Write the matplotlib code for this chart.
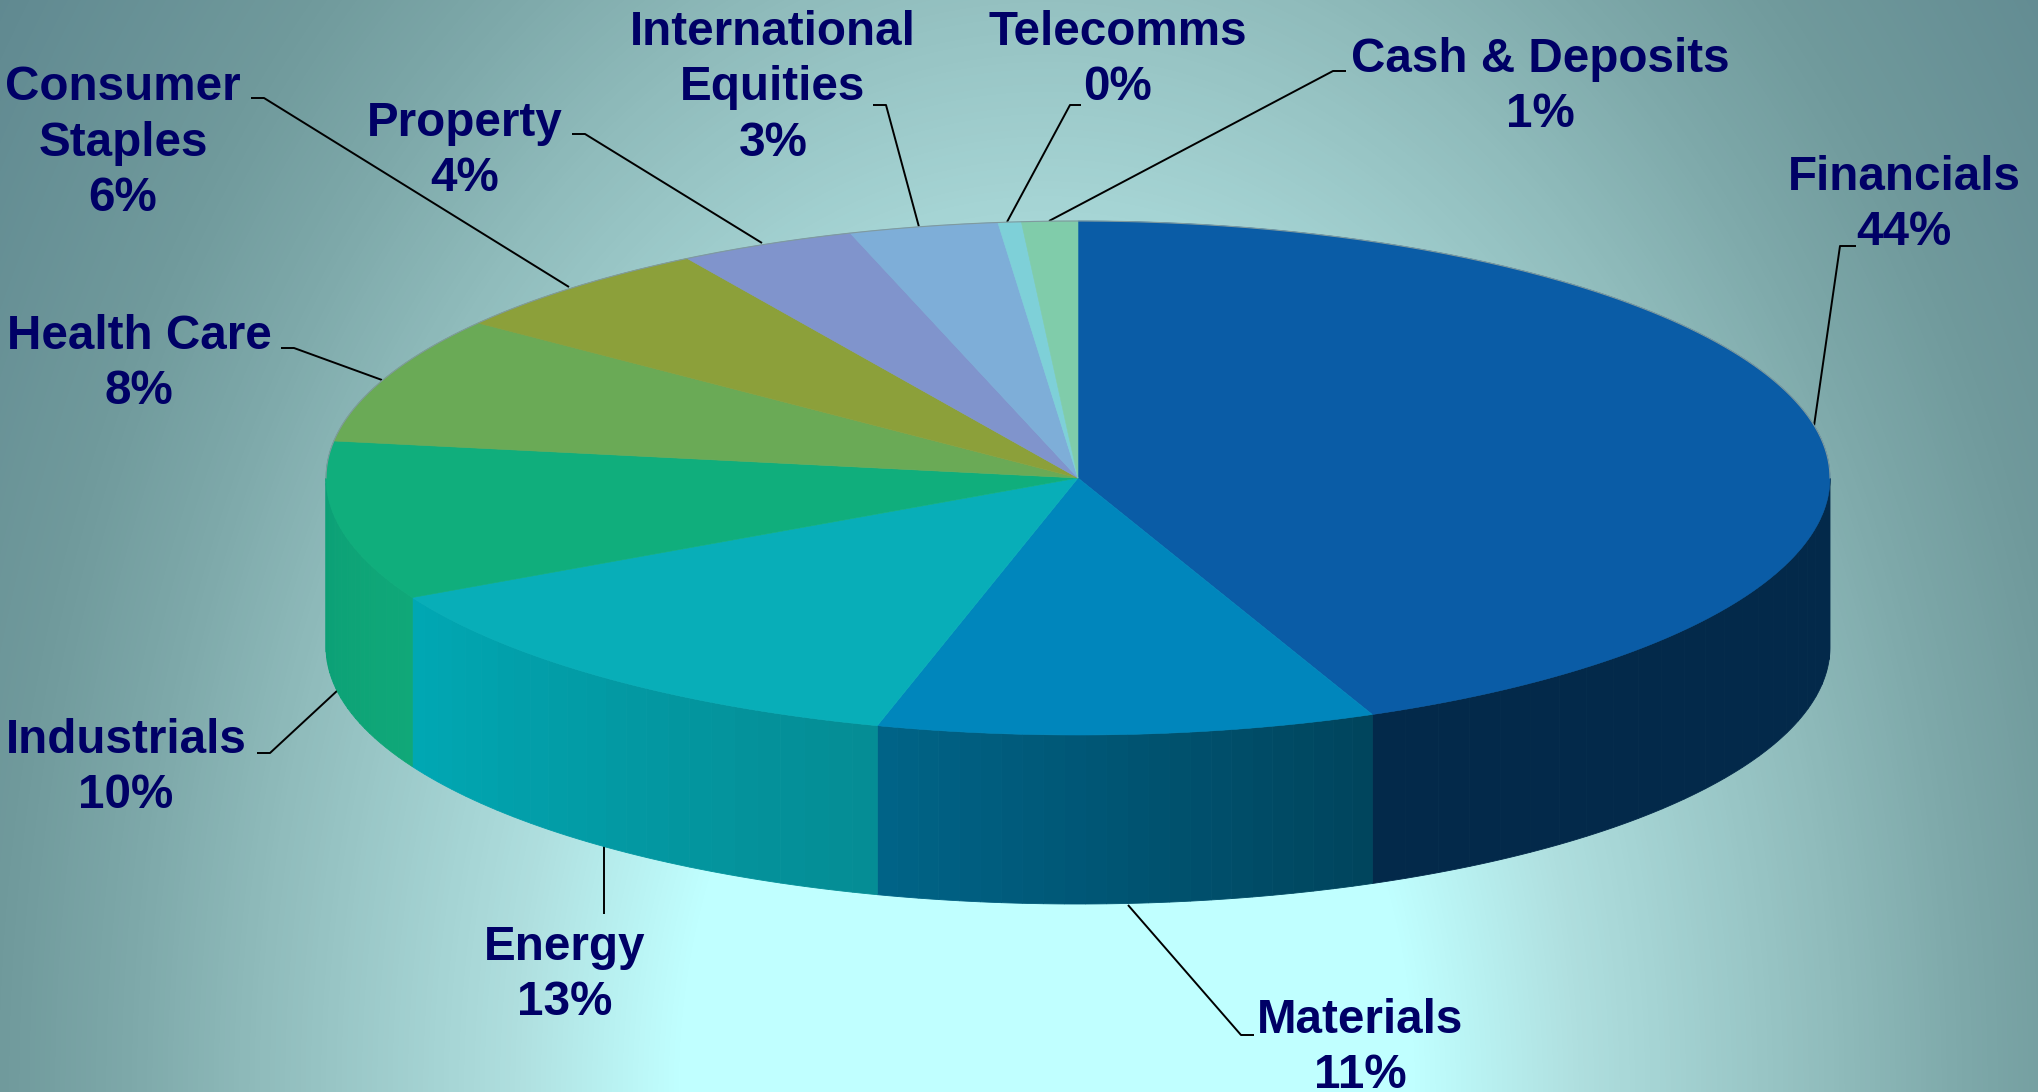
import numpy as np
from matplotlib import pyplot as plt
from matplotlib.colors import LinearSegmentedColormap, to_rgb

categories = ["Financials", "Materials", "Energy", "Industrials", "Health Care",
              "Consumer\nStaples", "Property", "International\nEquities",
              "Telecomms", "Cash & Deposits"]
values = [43.6, 10.7, 13.0, 10.0, 8.0, 6.0, 3.8, 3.2, 0.5, 1.2]
shown_pct = [44, 11, 13, 10, 8, 6, 4, 3, 0, 1]

top_colors = ["#0a5ca6", "#0086bc", "#08aeb8", "#10ae7c", "#6aaa56",
              "#8ca03a", "#8094cc", "#7eaed8", "#7ed0d8", "#80ccaa"]
side_left = ["#03294a", "#006488", "#00a8b4", "#0b9f76", "#6aaa56",
             "#8ca03a", "#8094cc", "#7eaed8", "#7ed0d8", "#80ccaa"]
side_right = ["#03294a", "#00445c", "#058c94", "#10a878", "#6aaa56",
              "#8ca03a", "#8094cc", "#7eaed8", "#7ed0d8", "#80ccaa"]

# label centres and leader lines, in pixels of the picture
label_xy = [(1904, 205), (1360, 1048), (565, 975), (126, 768), (139, 364),
            (123, 143), (465, 151), (773, 88), (1118, 60), (1540, 87)]
leaders = [
    [(1856, 246), (1840, 246), (1814, 426)],
    [(1254, 1035), (1241, 1035), (1128, 905)],
    [(604, 914), (604, 846)],
    [(257, 753), (270, 753), (338, 690)],
    [(281, 348), (294, 348), (382, 380)],
    [(251, 98), (264, 98), (569, 287)],
    [(572, 134), (585, 134), (762, 243)],
    [(873, 105), (886, 105), (919, 227)],
    [(1081, 105), (1070, 105), (1007, 222)],
    [(1346, 71), (1333, 71), (1049, 221)],
]

W, H = 2038, 1092
cx, cy = 1078, 478
rx, ry = 752, 257
depth = 169
text_color = "#000066"


def rim(theta, drop=0):
    return cx + rx * np.sin(theta), cy - ry * np.cos(theta) + drop


plt.rcParams['font.family'] = ['Liberation Sans', 'DejaVu Sans']
fig = plt.figure(figsize=(W / 100, H / 100), dpi=100)
ax = fig.add_axes([0, 0, 1, 1])
ax.set_xlim(0, W)
ax.set_ylim(H, 0)
ax.axis('off')

# background: elliptical glow from the bottom middle
xx, yy = np.meshgrid(np.arange(W) + 0.5, np.arange(H) + 0.5)
t = np.sqrt(((xx - 1047) / 1047) ** 2 + ((1092 - yy) / (1092 * 1.4)) ** 2)
glow = LinearSegmentedColormap.from_list("glow", [
    (0.0, "#c0ffff"), (0.35 / 1.25, "#c0ffff"), (0.5 / 1.25, "#b0e0e0"),
    (0.75 / 1.25, "#90bcbc"), (0.875 / 1.25, "#7ea9aa"), (1.0 / 1.25, "#709a9c"),
    (1.0, "#5f8890")])
ax.imshow(t, cmap=glow, vmin=0, vmax=1.25, extent=(0, W, H, 0), aspect='auto', zorder=0)

edges = np.cumsum([0] + values) / sum(values) * 2 * np.pi

# side wall, only the front half shows
for i in range(len(values)):
    a0, a1 = max(edges[i], np.pi / 2), min(edges[i + 1], 3 * np.pi / 2)
    if a1 <= a0:
        continue
    c0 = np.array(to_rgb(side_right[i]))
    c1 = np.array(to_rgb(side_left[i]))
    steps = 24
    cuts = np.linspace(a0, a1, steps + 1)
    for k in range(steps):
        th = np.linspace(cuts[k], cuts[k + 1], 8)
        x, y = rim(th)
        x2, y2 = rim(th[::-1], depth)
        col = c0 + (c1 - c0) * (k + 0.5) / steps
        ax.fill(np.r_[x, x2], np.r_[y, y2], color=col, lw=0.6, zorder=2)

# top face
for i in range(len(values)):
    th = np.linspace(edges[i], edges[i + 1], 200)
    x, y = rim(th)
    ax.fill(np.r_[cx, x], np.r_[cy, y], color=top_colors[i], lw=0.4, zorder=3)

th = np.linspace(-np.pi / 2, np.pi / 2, 300)
ax.plot(*rim(th), color="#7f9a9e", lw=0.8, zorder=4)

for pts in leaders:
    px, py = zip(*pts)
    ax.plot(px, py, color="black", lw=1.4, zorder=1.5, solid_capstyle='butt')

for name, pct, (lx, ly) in zip(categories, shown_pct, label_xy):
    ax.text(lx, ly, f"{name}\n{pct}%", ha='center', va='center', color=text_color,
            fontsize=34.3, fontweight='bold', linespacing=1.31, zorder=5)

fig.savefig("out.png", dpi=100)
